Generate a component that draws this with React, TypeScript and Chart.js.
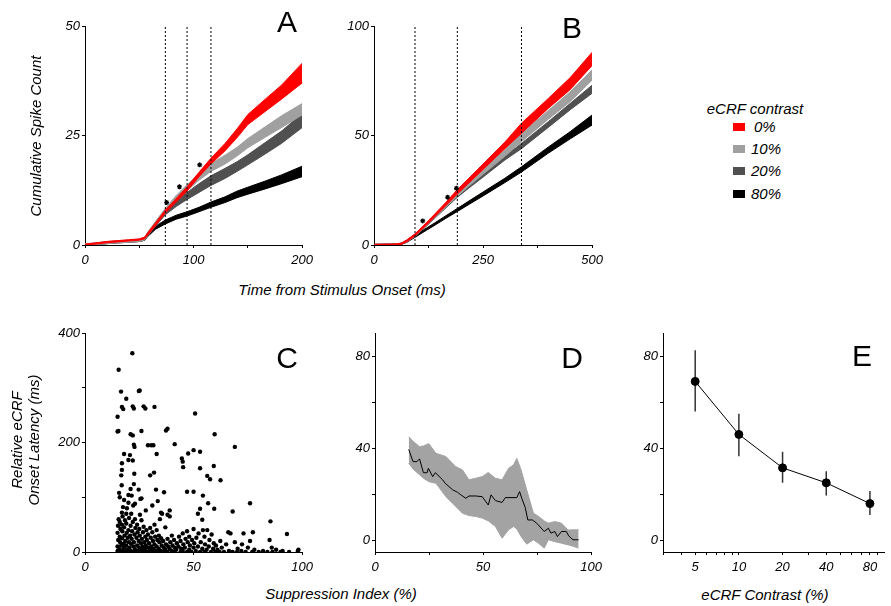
import React, { useEffect, useRef } from 'react';
import { Chart, registerables } from 'chart.js';
Chart.register(...registerables);

const FONT = "'Liberation Sans', Arial, Helvetica, sans-serif";

// ---------- Panel A (time 0-200 ms) ----------
const aTime = [0, 10, 20, 30, 40, 50, 55, 58, 65, 74, 84, 94, 105, 116, 129, 140, 150, 166, 181, 200];
const aRedLo = [0, 0.2, 0.5, 0.7, 0.9, 1.1, 1.4, 2.3, 4.4, 7.3, 9.8, 12.3, 15.6, 18.5, 21.5, 24.5, 27.5, 30.5, 33.3, 37.0];
const aRedHi = [0.2, 0.5, 0.8, 1.0, 1.2, 1.4, 1.8, 2.9, 5.1, 8.0, 10.6, 13.3, 16.6, 19.8, 23.2, 26.5, 29.8, 33.3, 36.5, 41.5];
const aLgLo = [0, 0.1, 0.3, 0.5, 0.6, 0.8, 1.2, 2.3, 4.6, 7.4, 10.2, 12.4, 14.8, 16.8, 18.5, 20.3, 22.2, 24.6, 26.8, 29.7];
const aLgHi = [0.3, 0.5, 0.8, 1.0, 1.1, 1.3, 1.8, 3.0, 5.4, 8.4, 11.3, 13.8, 16.2, 18.6, 20.5, 22.3, 24.3, 27.0, 29.5, 32.3];
const aDgLo = [0, 0.1, 0.3, 0.5, 0.6, 0.8, 1.1, 2.1, 4.3, 6.9, 8.8, 10.4, 12.0, 13.6, 15.2, 16.8, 18.3, 20.8, 23.2, 26.8];
const aDgHi = [0.2, 0.4, 0.7, 0.9, 1.0, 1.2, 1.7, 2.9, 5.1, 8.0, 10.0, 12.0, 14.0, 15.8, 17.5, 19.0, 20.6, 23.4, 26.0, 30.0];
const aBkLo = [0, 0.1, 0.3, 0.5, 0.6, 0.8, 1.1, 2.0, 3.6, 4.8, 5.9, 6.6, 7.6, 8.6, 9.7, 10.8, 11.6, 12.8, 14.0, 15.6];
const aBkHi = [0.2, 0.4, 0.7, 0.9, 1.0, 1.2, 1.7, 2.7, 4.3, 5.7, 6.8, 7.6, 8.6, 9.8, 11.0, 12.3, 13.2, 14.6, 16.0, 18.0];
const aDotted = [74, 94, 116];
const aStarX = [75.2, 87, 105.6];
const aStarY = [9.7, 13.3, 18.3];

// ---------- Panel B (time 0-500 ms) ----------
const bTime = [0, 50, 62, 75, 94, 120, 140, 165, 191, 220, 250, 300, 338, 400, 450, 500];
const bRedLo = [0, 0, 0.2, 1.5, 4.1, 9.0, 13.0, 18.0, 23.3, 28.8, 34.5, 44.0, 51.0, 62.5, 71.0, 82.0];
const bRedHi = [0.3, 0.5, 0.8, 2.3, 5.1, 10.2, 14.3, 19.5, 25.3, 31.0, 37.0, 47.0, 55.6, 67.0, 76.5, 88.0];
const bLgLo = [0, 0, 0.2, 1.4, 4.0, 8.8, 12.6, 17.4, 22.3, 27.3, 32.3, 40.5, 47.2, 57.5, 65.5, 75.3];
const bLgHi = [0.3, 0.5, 0.8, 2.2, 5.0, 9.8, 13.7, 18.7, 24.0, 29.3, 34.5, 43.5, 51.0, 61.5, 70.0, 80.0];
const bDgLo = [0, 0, 0.2, 1.3, 3.9, 8.6, 12.3, 17.0, 21.8, 26.4, 31.0, 38.8, 44.0, 53.8, 61.8, 69.3];
const bDgHi = [0.3, 0.5, 0.8, 2.1, 4.8, 9.6, 13.3, 18.0, 23.0, 27.8, 32.5, 40.6, 46.4, 56.4, 64.7, 73.0];
const bBkLo = [0, 0, 0.2, 1.2, 3.5, 6.7, 9.1, 12.2, 15.3, 18.8, 22.4, 28.5, 33.3, 42.0, 48.5, 54.8];
const bBkHi = [0.3, 0.5, 0.8, 2.0, 4.6, 7.7, 10.2, 13.4, 16.7, 20.4, 24.2, 30.5, 35.7, 44.8, 51.8, 59.4];
const bDotted = [94, 191, 338];
const bStarX = [111.7, 168.7, 189];
const bStarY = [11, 21.8, 25.9];

// ---------- Panel C (suppression index vs latency) ----------
const cPoints: [number, number][] = [
  [21.8, 363], [15.5, 333], [16.6, 293], [24.8, 294], [25.2, 295], [19, 280], [15, 247], [17, 265], [17.6, 261],
  [22, 266], [22.5, 262], [27, 266], [27.8, 262], [32, 265], [15, 220], [15.4, 221], [26, 221], [21, 215], [22, 213],
  [22.5, 196], [22.8, 192], [29, 195], [30.5, 195], [31.5, 195], [33, 179], [18, 179], [20.7, 177], [20, 168], [22, 167],
  [17, 162], [17, 150], [22.7, 143], [30, 140], [31.8, 145], [16.7, 140], [22.5, 124], [16.9, 122], [32.7, 114],
  [15.7, 108], [21, 115], [21.5, 103], [24.7, 114], [25.5, 97], [33.5, 93], [36.4, 109], [37.3, 222], [38, 225],
  [41.3, 197], [44.6, 171], [45, 165], [45.2, 155], [47.5, 180], [50, 186], [53, 183], [50.7, 253], [47, 110],
  [50, 110], [53, 153], [54.3, 103], [56.3, 139], [59.7, 215], [59.3, 157], [57.6, 133], [53, 79], [54, 59], [52, 70],
  [56.7, 89], [59.5, 79], [62.4, 131], [69, 192], [68, 74], [76, 89], [85.4, 56], [93, 33], [16, 100], [18, 95],
  [20, 104], [26, 98], [35, 72], [38, 68], [39, 76], [28, 76], [23, 88], [17.5, 82], [19, 70], [31, 85],
  [15, 2], [15, 10], [15.3, 22], [15, 35], [15.2, 48], [15.5, 60], [16, 5], [16.2, 18], [16, 28], [16.3, 42], [16, 55],
  [16.5, 0], [16.7, 12], [17, 25], [17.2, 38], [17, 50], [17.3, 65], [17, 72], [17.5, 3], [17.8, 15], [18, 8], [18.2, 30],
  [18, 45], [18.4, 58], [18.5, 20], [18.5, 0], [19, 12], [19.2, 35], [19, 52], [19.3, 80], [19.5, 4], [19.7, 26], [20, 0],
  [20.2, 18], [20, 40], [20.3, 62], [20, 90], [20.5, 8], [20.8, 30], [21, 2], [21.2, 15], [21, 48], [21.3, 70], [21.5, 24],
  [21.7, 38], [22, 0], [22.3, 10], [22, 55], [22.2, 85], [22.5, 18], [22.8, 32], [23, 5], [23.2, 44], [23, 60], [23.5, 0],
  [23.7, 26], [24, 12], [24.2, 36], [24, 50], [24.5, 2], [24.7, 20], [25, 8], [25.2, 30], [25, 42], [25.3, 68], [25.5, 0],
  [25.8, 16], [26, 4], [26.2, 24], [26, 58], [26.5, 10], [26.7, 36], [27, 0], [27.3, 18], [27, 46], [27.5, 6], [27.8, 28],
  [28, 12], [28.3, 40], [28, 2], [28.5, 22], [29, 0], [29.2, 8], [29, 32], [29.5, 16], [30, 4], [30.3, 26], [30, 44],
  [30.5, 10], [31, 0], [31.3, 20], [31, 36], [31.5, 6], [32, 14], [32.3, 28], [32, 50], [32.5, 2], [33, 10], [33.3, 22],
  [33, 40], [33.5, 0], [34, 6], [34.3, 18], [34, 30], [34.5, 60], [35, 2], [35.3, 12], [35, 25], [35.5, 70], [36, 0],
  [36.3, 8], [36, 20], [37, 4], [37.3, 14], [37, 45], [38, 0], [38.3, 10], [38, 24], [39, 6], [39.3, 18], [39, 65], [40, 2],
  [40.3, 12], [40, 30], [41, 0], [41.3, 8], [41, 22], [42, 4], [42.3, 16], [43, 10], [43.3, 28], [44, 0], [44.3, 6], [44, 20],
  [45, 2], [45.3, 14], [45, 34], [46, 8], [46.3, 24], [47, 0], [47.3, 18], [47, 38], [48, 4], [48.3, 12], [48, 28], [49, 0],
  [49.3, 22], [50, 8], [50.3, 16], [50, 42], [51, 2], [51.3, 26], [52, 10], [52.3, 34], [53, 0], [53.3, 18], [54, 6], [54.3, 40],
  [55, 0], [55.3, 14], [55, 28], [56, 4], [56.3, 40], [57, 10], [57.3, 22], [58, 0], [58.3, 32], [59, 6], [59.3, 16], [60, 0],
  [60.3, 12], [61, 4], [62, 0], [62.3, 20], [63, 8], [64, 0], [65, 14], [66, 36], [66.3, 2], [67, 34], [68, 0], [69, 18],
  [70, 0], [70.3, 6], [72, 2], [72.3, 14], [73, 34], [74, 0], [75, 8], [76, 20], [77, 0], [77.3, 36], [78, 4], [80, 0],
  [82, 2], [84, 0], [85, 22], [86, 8], [86.3, 0], [88, 4], [90, 0], [91, 2], [94, 0], [98, 2], [98.3, 4],
];

// ---------- Panel D (running mean latency vs suppression index) ----------
const dMeanX = [15.6, 17.6, 19.4, 20.6, 22.4, 24.1, 24.7, 26.7, 27.9, 31.3, 32.5, 35.9, 38.2, 39.7, 42, 43.5, 46.6,
  49.6, 52.4, 53.7, 55.7, 58.8, 60.3, 65.6, 66.9, 67.9, 69.5, 70.7, 72.8, 74.8, 78.3, 80.2, 81.4, 83.2, 84.4, 86.3,
  88.5, 89.6, 91.6, 94.2];
const dMeanY = [39.5, 34.2, 34.2, 35.4, 29.4, 29.4, 31.3, 27.7, 29.4, 26.3, 24.8, 22, 20.9, 19.8, 18.3, 19.3, 19.3,
  19, 15.4, 19.8, 17.3, 16.5, 18.6, 18.6, 21.2, 18.3, 14.3, 8.9, 8.9, 7.5, 3.9, 5.3, 3.2, 3.9, 1.7, 3.9, 3.9, 2.0,
  0.3, 0.3];
const dBandX = [15.6, 17.6, 20.6, 22.4, 24.9, 28.2, 32.8, 37.4, 40.5, 43.5, 46.6, 49.6, 52.4, 55.7, 58.8, 61.8, 64.1,
  65.6, 67.6, 70.2, 73.3, 75.6, 78.3, 80.2, 83.2, 86.3, 89.3, 91.6, 94.2];
const dBandHi = [45, 43, 40.7, 41, 42, 37.8, 36.4, 32, 30.6, 26.3, 27, 27.7, 29.5, 27, 26.3, 31.3, 32.8, 35.6, 30.6,
  21.9, 11.8, 10.5, 8.5, 7.5, 8.2, 7.5, 4.5, 4.6, 4.6];
const dBandLo = [33.5, 31, 28.5, 27, 25.5, 24.8, 19, 14.7, 11.8, 10.8, 10.4, 9.7, 8.5, 6.1, 1, 4.6, 6.1, 5, 1.7, -1.6,
  0.3, -1.2, -3.3, 0.3, -0.5, -1.2, -1.9, -2.5, -3.3];

// ---------- Panel E (latency vs eCRF contrast) ----------
const eContrast = [5, 10, 20, 40, 80];
const eMean = [69, 46, 31.5, 25, 16];
const eLow = [56, 36.5, 25, 19.5, 11];
const eHigh = [82.5, 55, 38.5, 30, 21.5];

// ---------- Legend ----------
const legendLabels = ['0%', '10%', '20%', '80%'];
const legendColors = ['#ff0000', '#a0a0a0', '#505050', '#000000'];

const tickFont = { family: FONT, size: 13, style: 'italic' as const };

type AxisSpec = {
  type?: string; min: number; max: number; ticks: number[]; labels: number[];
};

function makeScales(x: AxisSpec, y: AxisSpec, wy: number, hx: number) {
  const common = (spec: AxisSpec, horizontal: boolean) => ({
    type: spec.type || 'linear',
    min: spec.min,
    max: spec.max,
    position: horizontal ? 'bottom' : 'left',
    border: { display: true, color: '#000', width: 1 },
    grid: { display: true, drawOnChartArea: false, drawTicks: true, tickLength: 3, color: '#000', lineWidth: 1 },
    ticks: {
      font: tickFont, color: '#000', padding: horizontal ? 5 : 2, autoSkip: false, maxRotation: 0, minRotation: 0,
      callback: (v: any) => (spec.labels.indexOf(Number(v)) >= 0 ? String(v) : ''),
    },
    afterBuildTicks: (ax: any) => { ax.ticks = spec.ticks.map((v) => ({ value: v })); },
    afterFit: (ax: any) => { if (horizontal) ax.height = hx; else ax.width = wy; },
  });
  return { x: common(x, true), y: common(y, false) };
}

function baseOptions(scales: any, pt: number, pr: number) {
  return {
    responsive: false,
    animation: false,
    layout: { padding: { top: pt, right: pr, left: 0, bottom: 0 }, autoPadding: false },
    plugins: { legend: { display: false }, tooltip: { enabled: false } },
    elements: { point: { radius: 0 } },
    scales,
  };
}

function bandSets(xs: number[], lo: number[], hi: number[], color: string) {
  return [
    { data: xs.map((x, i) => ({ x, y: lo[i] })), borderColor: color, borderWidth: 1, pointRadius: 0, fill: false },
    { data: xs.map((x, i) => ({ x, y: hi[i] })), borderColor: color, borderWidth: 1, pointRadius: 0, fill: '-1', backgroundColor: color },
  ];
}

function dottedSets(xs: number[], top: number) {
  return xs.map((x) => ({
    data: [{ x, y: 0 }, { x, y: top }], borderColor: '#000', borderWidth: 1, borderDash: [2, 2], pointRadius: 0, fill: false,
  }));
}

function starSet(xs: number[], ys: number[]) {
  return {
    data: xs.map((x, i) => ({ x, y: ys[i] })), showLine: false, pointStyle: 'star', pointRadius: 2.5,
    pointBorderColor: '#000', pointBorderWidth: 1.2, borderColor: '#000', fill: false,
  };
}

type Geo = { cl: number; cr: number; ct: number; cb: number; wy: number; hx: number; pt: number; pr: number };

function geom(g: Geo) {
  const left = g.cl - g.wy;
  const top = g.ct - g.pt;
  return { left, top, width: g.cr - left + g.pr, height: g.cb - top + g.hx };
}

function Panel({ g, build }: { g: Geo; build: () => any }) {
  const ref = useRef<HTMLCanvasElement | null>(null);
  const { left, top, width, height } = geom(g);
  useEffect(() => {
    const chart = new Chart(ref.current as HTMLCanvasElement, build());
    return () => chart.destroy();
  }, []);
  return (
    <canvas ref={ref} width={width} height={height}
      style={{ position: 'absolute', left, top, width, height }} />
  );
}

const gA: Geo = { cl: 85, cr: 304, ct: 26, cb: 245, wy: 45, hx: 30, pt: 12, pr: 14 };
const gB: Geo = { cl: 374, cr: 594, ct: 26, cb: 245, wy: 45, hx: 30, pt: 12, pr: 14 };
const gC: Geo = { cl: 85, cr: 304, ct: 333, cb: 552, wy: 45, hx: 30, pt: 12, pr: 14 };
const gD: Geo = { cl: 375, cr: 593, ct: 333, cb: 552, wy: 45, hx: 30, pt: 12, pr: 14 };
const gE: Geo = { cl: 663, cr: 884, ct: 333, cb: 552, wy: 45, hx: 30, pt: 12, pr: 6 };

function buildA() {
  const datasets = [
    ...dottedSets(aDotted, 50),
    starSet(aStarX, aStarY),
    ...bandSets(aTime, aRedLo, aRedHi, legendColors[0]),
    ...bandSets(aTime, aLgLo, aLgHi, legendColors[1]),
    ...bandSets(aTime, aDgLo, aDgHi, legendColors[2]),
    ...bandSets(aTime, aBkLo, aBkHi, legendColors[3]),
  ];
  return {
    type: 'line', data: { datasets },
    options: baseOptions(makeScales(
      { min: 0, max: 200, ticks: [0, 50, 100, 150, 200], labels: [0, 100, 200] },
      { min: 0, max: 50, ticks: [0, 25, 50], labels: [0, 25, 50] }, gA.wy, gA.hx), gA.pt, gA.pr),
  };
}

function buildB() {
  const datasets = [
    ...dottedSets(bDotted, 100),
    starSet(bStarX, bStarY),
    ...bandSets(bTime, bRedLo, bRedHi, legendColors[0]),
    ...bandSets(bTime, bLgLo, bLgHi, legendColors[1]),
    ...bandSets(bTime, bDgLo, bDgHi, legendColors[2]),
    ...bandSets(bTime, bBkLo, bBkHi, legendColors[3]),
  ];
  return {
    type: 'line', data: { datasets },
    options: baseOptions(makeScales(
      { min: 0, max: 500, ticks: [0, 125, 250, 375, 500], labels: [0, 250, 500] },
      { min: 0, max: 100, ticks: [0, 50, 100], labels: [0, 50, 100] }, gB.wy, gB.hx), gB.pt, gB.pr),
  };
}

function buildC() {
  return {
    type: 'scatter',
    data: {
      datasets: [{
        data: cPoints.map(([x, y]) => ({ x, y })), pointRadius: 2.2, pointBackgroundColor: '#000',
        pointBorderColor: '#000', pointBorderWidth: 0, showLine: false,
      }],
    },
    options: baseOptions(makeScales(
      { min: 0, max: 100, ticks: [0, 50, 100], labels: [0, 50, 100] },
      { min: 0, max: 400, ticks: [0, 100, 200, 300, 400], labels: [0, 200, 400] }, gC.wy, gC.hx), gC.pt, gC.pr),
  };
}

function buildD() {
  const datasets = [
    { data: dMeanX.map((x, i) => ({ x, y: dMeanY[i] })), borderColor: '#000', borderWidth: 1, pointRadius: 0, fill: false },
    ...bandSets(dBandX, dBandLo, dBandHi, '#a3a3a3'),
  ];
  return {
    type: 'line', data: { datasets },
    options: baseOptions(makeScales(
      { min: 0, max: 100, ticks: [0, 25, 50, 75, 100], labels: [0, 50, 100] },
      { min: -5, max: 90, ticks: [0, 20, 40, 60, 80], labels: [0, 40, 80] }, gD.wy, gD.hx), gD.pt, gD.pr),
  };
}

function buildE() {
  const errData: any[] = [];
  eContrast.forEach((c, i) => {
    errData.push({ x: c, y: eLow[i] }, { x: c, y: eHigh[i] }, { x: c, y: null });
  });
  const datasets = [
    {
      data: eContrast.map((x, i) => ({ x, y: eMean[i] })), borderColor: '#000', borderWidth: 1, pointRadius: 4,
      pointBackgroundColor: '#000', pointBorderColor: '#000', fill: false,
    },
    { data: errData, borderColor: '#333', borderWidth: 1.5, pointRadius: 0, fill: false, spanGaps: false },
  ];
  return {
    type: 'line', data: { datasets },
    options: baseOptions(makeScales(
      { type: 'logarithmic', min: 3, max: 100, ticks: [3, 4, 5, 6, 7, 8, 9, 10, 20, 30, 40, 50, 60, 70, 80, 90], labels: [5, 10, 20, 40, 80] },
      { min: -5, max: 90, ticks: [0, 20, 40, 60, 80], labels: [0, 40, 80] }, gE.wy, gE.hx), gE.pt, gE.pr),
  };
}

const txt = (extra: React.CSSProperties): React.CSSProperties => ({
  position: 'absolute', fontFamily: FONT, fontStyle: 'italic', fontSize: 15, color: '#000',
  whiteSpace: 'nowrap', lineHeight: 1.15, ...extra,
});

function Center({ x, y, rotate, style, children }: { x: number; y: number; rotate?: boolean; style?: React.CSSProperties; children: React.ReactNode }) {
  return (
    <div style={txt({ left: x, top: y, transform: `translate(-50%, -50%)${rotate ? ' rotate(-90deg)' : ''}`, textAlign: 'center', ...style })}>
      {children}
    </div>
  );
}

const letterStyle: React.CSSProperties = { fontStyle: 'normal', fontSize: 30, lineHeight: 1 };

export default function App() {
  return (
    <div style={{ position: 'absolute', left: 0, top: 0, width: 891, height: 606, background: '#fff', overflow: 'hidden' }}>
      <Panel g={gA} build={buildA} />
      <Panel g={gB} build={buildB} />
      <Panel g={gC} build={buildC} />
      <Panel g={gD} build={buildD} />
      <Panel g={gE} build={buildE} />

      <Center x={36} y={136} rotate>Cumulative Spike Count</Center>
      <Center x={342} y={290}>Time from Stimulus Onset (ms)</Center>
      <Center x={25} y={440} rotate>Relative eCRF<br />Onset Latency (ms)</Center>
      <Center x={341} y={594}>Suppression Index (%)</Center>
      <Center x={765} y={595}>eCRF Contrast (%)</Center>

      <Center x={287} y={22} style={letterStyle}>A</Center>
      <Center x={572} y={28} style={letterStyle}>B</Center>
      <Center x={287} y={358} style={letterStyle}>C</Center>
      <Center x={572} y={358} style={letterStyle}>D</Center>
      <Center x={862} y={356} style={letterStyle}>E</Center>

      <Center x={755} y={109}>eCRF contrast</Center>
      {legendLabels.map((lab, i) => (
        <React.Fragment key={lab}>
          <div style={{ position: 'absolute', left: 733, top: 123 + i * 22.2, width: 12, height: 8, background: legendColors[i] }} />
          <div style={txt({ left: i === 0 ? 754 : 751, top: 127 + i * 22.2, transform: 'translateY(-50%)' })}>{lab}</div>
        </React.Fragment>
      ))}
    </div>
  );
}
